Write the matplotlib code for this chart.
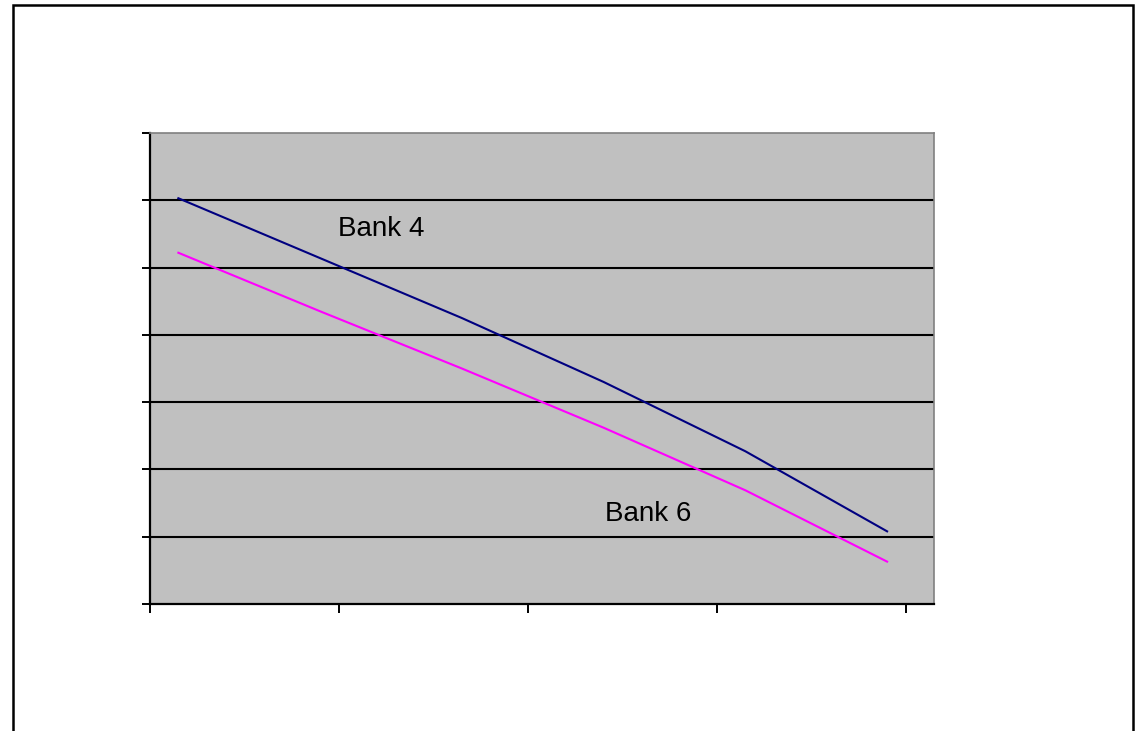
import matplotlib
matplotlib.use('Agg')
from matplotlib import pyplot as plt
from matplotlib.patches import Rectangle

plt.rcParams['font.family'] = ['Liberation Sans', 'DejaVu Sans']

# 两条线的数据
x = [0.15, 0.9, 1.65, 2.4, 3.15, 3.9]
bank4 = [6.03, 5.14, 4.25, 3.30, 2.27, 1.08]
bank6 = [5.22, 4.35, 3.50, 2.62, 1.69, 0.63]

x_ticks = [0, 1, 2, 3, 4]
y_ticks = [0, 1, 2, 3, 4, 5, 6, 7]

fig = plt.figure(figsize=(11.39, 7.31), dpi=100)

# 外框
fig.patches.append(Rectangle((0.011, -0.02), 0.984, 1.0125, transform=fig.transFigure,
                             fill=False, edgecolor='black', linewidth=1.8))

ax = fig.add_axes([0.1317, 0.1737, 0.6883, 0.6444])
ax.set_facecolor('#c0c0c0')

for y in y_ticks[1:-1]:
    ax.axhline(y, color='black', linewidth=1.5, zorder=1)

ax.plot(x, bank4, color='#000080', linewidth=1.5, zorder=3)
ax.plot(x, bank6, color='#ff00ff', linewidth=1.5, zorder=3)

ax.text(0.995, 5.47, 'Bank 4', fontsize=20, ha='left', va='baseline')
ax.text(2.407, 1.24, 'Bank 6', fontsize=20, ha='left', va='baseline')

ax.set_xlim(0, 4.148)
ax.set_ylim(0, 7)
ax.set_xticks(x_ticks)
ax.set_yticks(y_ticks)
ax.set_xticklabels([])
ax.set_yticklabels([])
ax.tick_params(axis='both', direction='out', width=1.4, color='black')
ax.tick_params(axis='y', length=6)
ax.tick_params(axis='x', length=6.5)

ax.spines['left'].set_color('black')
ax.spines['bottom'].set_color('black')
ax.spines['left'].set_linewidth(1.6)
ax.spines['bottom'].set_linewidth(1.6)
ax.spines['top'].set_color('#808080')
ax.spines['right'].set_color('#808080')
ax.spines['top'].set_linewidth(1.2)
ax.spines['right'].set_linewidth(1.2)

fig.savefig('out.png', dpi=100, facecolor='white')
